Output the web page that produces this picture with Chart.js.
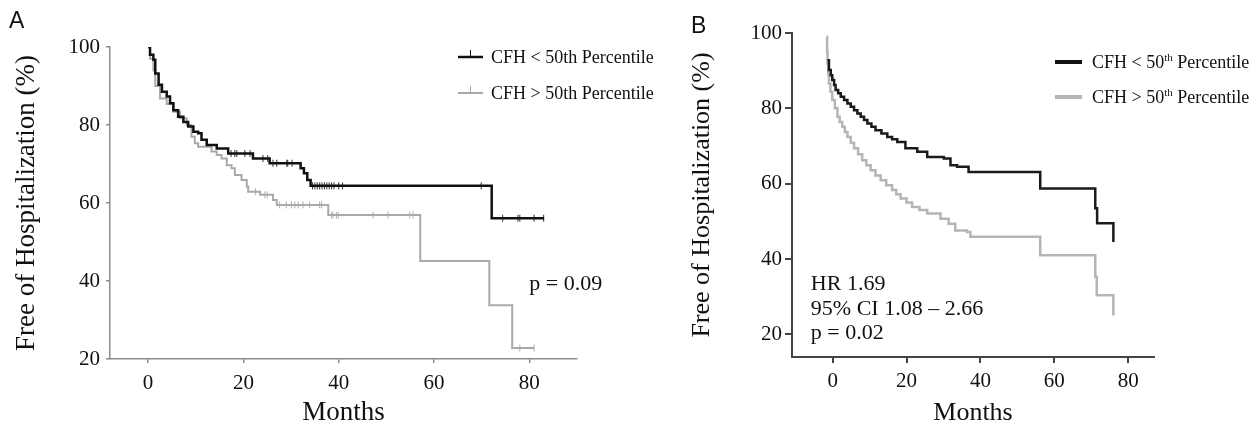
<!DOCTYPE html>
<html>
<head>
<meta charset="utf-8">
<script src="https://cdn.jsdelivr.net/npm/chart.js@4.4.1/dist/chart.umd.min.js"></script>
<style>
    body { margin: 0; background: #fff; width: 1260px; height: 429px; overflow: hidden; position: relative; }
    canvas { position: absolute; top: 0; }
    #chartA { left: 0; }
    #chartB { left: 640px; }
    .panel-label { position: absolute; font-family: "Liberation Sans", Arial, sans-serif; font-size: 23px; color: #111; }
</style>
</head>
<body>
<canvas id="chartA" width="680" height="429"></canvas>
<canvas id="chartB" width="620" height="429"></canvas>
<div class="panel-label" style="left:9px; top:7px;">A</div>
<div class="panel-label" style="left:691px; top:12px;">B</div>

<script>
// Панель A: время (мес.) и доля без госпитализации (%) — ступени Каплана–Мейера
const aLowTimes  = [0, 0.4, 1.1, 1.5, 2.2, 2.9, 3.9, 4.6, 5.3, 6.3, 7.4, 8.4, 9.5, 10.5, 11.2, 12.3, 14.4, 16.8, 22, 25.5, 32, 32.7, 33.4, 34.1, 72.1, 83.1];
const aLowValues = [100, 98, 96.7, 93.2, 90.3, 88.5, 87.3, 85.6, 83.8, 82.1, 80.8, 79.6, 78.3, 77.9, 76.2, 74.9, 74, 72.7, 71.4, 70.2, 68.9, 67.6, 65.9, 64.4, 56.1, 56.1];
const aLowCensored = [17.4, 18.2, 18.6, 20.3, 21.4, 24.1, 25.1, 26.2, 27, 29.1, 29.3, 30.2, 34.5, 35, 35.5, 36, 36.5, 37, 37.5, 38, 38.5, 39, 40, 40.8, 69.9, 74.4, 77.6, 78, 81, 83];

const aHighTimes  = [0, 0.4, 1.1, 1.5, 2.5, 3.9, 5.3, 6.7, 8.1, 9.1, 9.8, 10.5, 13.3, 14.4, 15.4, 16.5, 17.5, 18.2, 19.6, 20.7, 21, 23.5, 26.2, 27, 37.8, 57.1, 71.6, 76.4, 81];
const aHighValues = [100, 97, 94, 90, 86.8, 85.4, 83.4, 81.7, 80, 77, 75.3, 74.4, 73.2, 72.3, 71.4, 69.7, 68.9, 67.2, 65.9, 64.2, 62.9, 62.1, 60.8, 59.5, 56.9, 45.1, 33.8, 22.8, 22.8];
const aHighCensored = [22.5, 24.5, 25, 27.6, 29, 30.1, 30.8, 31.5, 32.5, 33.9, 36, 36.4, 38.5, 38.8, 39.5, 39.9, 47.2, 50.3, 54.9, 55.6, 78, 81];

const aXTicks = [0, 20, 40, 60, 80];
const aYTicks = [20, 40, 60, 80, 100];

// Панель B
const bLowTimes  = [-1.4, -1, -0.5, -0.1, 0.4, 0.8, 1.5, 2.2, 3.1, 4, 4.9, 5.8, 6.7, 7.6, 8.5, 9.4, 10.5, 11.6, 13.2, 14.8, 16.1, 17.5, 19.7, 22.9, 25.6, 30.1, 31.9, 33.7, 36.8, 56.2, 71.1, 71.6, 76];
const bLowValues = [92.8, 90.2, 88.8, 87.5, 86.2, 84.9, 84, 83.1, 82.2, 81.3, 80.4, 79.5, 78.6, 77.8, 76.9, 76, 75.1, 74.2, 73.3, 72.4, 71.8, 71.1, 69.4, 68.5, 67.1, 66.7, 64.9, 64.5, 63.1, 58.7, 53.5, 49.5, 44.5];

const bHighTimes  = [-1.6, -1.5, -1.4, -1.2, -1, -0.6, -0.1, 0.6, 1.3, 1.9, 2.6, 3.3, 4, 4.9, 5.8, 6.9, 8, 9.1, 10.3, 11.6, 13, 14.5, 16.1, 17.2, 18.4, 20, 21.5, 23.5, 25.6, 29.2, 31.4, 33.2, 36.4, 37.3, 56.2, 71.1, 71.5, 76];
const bHighValues = [99, 95, 91.9, 89, 86.6, 84.4, 82.2, 80, 77.8, 76.4, 75.1, 73.7, 72.4, 70.9, 69.4, 67.8, 66.2, 64.9, 63.6, 62.2, 60.9, 59.6, 58.3, 57.2, 56.1, 55, 53.8, 53, 52.1, 50.7, 49.4, 47.6, 47.2, 45.9, 41, 35.3, 30.4, 25];

const bXTicks = [0, 20, 40, 60, 80];
const bYTicks = [20, 40, 60, 80, 100];

const legendLabels = ['CFH < 50th Percentile', 'CFH > 50th Percentile'];

const SERIF = '"Liberation Serif", "Times New Roman", serif';

// Пары (x, y) для Chart.js
function toXY(times, values) {
    return times.map((t, i) => ({ x: t, y: values[i] }));
}

// Значение ступенчатой кривой в момент t (для меток цензурирования)
function stepAt(times, values, t) {
    let v = values[0];
    for (let i = 0; i < times.length; i++) {
        if (times[i] <= t) v = values[i];
    }
    return v;
}

function censorXY(marks, times, values) {
    return marks.map(t => ({ x: t, y: stepAt(times, values, t) }));
}

// Текст на графике в координатах данных
const notesPlugin = {
    id: 'notes',
    afterDatasetsDraw(chart, args, opts) {
        const ctx = chart.ctx;
        const xs = chart.scales.x, ys = chart.scales.y;
        ctx.save();
        ctx.fillStyle = '#111';
        ctx.font = opts.font;
        ctx.textAlign = 'left';
        ctx.textBaseline = 'alphabetic';
        (opts.items || []).forEach(n => {
            ctx.fillText(n.text, xs.getPixelForValue(n.x), ys.getPixelForValue(n.y));
        });
        ctx.restore();
    }
};

// Легенда: образец линии + подпись (с надстрочным "th" при необходимости)
const keyPlugin = {
    id: 'key',
    afterDraw(chart, args, opts) {
        const ctx = chart.ctx;
        ctx.save();
        opts.entries.forEach((e, i) => {
            const y = opts.y0 + i * opts.gap;
            ctx.strokeStyle = e.color;
            ctx.lineWidth = e.width;
            ctx.beginPath();
            ctx.moveTo(opts.x0, y);
            ctx.lineTo(opts.x0 + opts.len, y);
            ctx.stroke();
            if (opts.tick) {
                ctx.lineWidth = 1;
                ctx.beginPath();
                ctx.moveTo(opts.x0 + opts.len / 2, y);
                ctx.lineTo(opts.x0 + opts.len / 2, y - 7);
                ctx.stroke();
            }
            ctx.fillStyle = '#111';
            ctx.textBaseline = 'middle';
            ctx.textAlign = 'left';
            let x = opts.x0 + opts.len + opts.textGap;
            if (opts.superscript) {
                const parts = e.text.split('th');
                ctx.font = opts.size + 'px ' + SERIF;
                ctx.fillText(parts[0], x, y + 1);
                x += ctx.measureText(parts[0]).width;
                ctx.font = Math.round(opts.size * 0.6) + 'px ' + SERIF;
                ctx.fillText('th', x, y - 4);
                x += ctx.measureText('th').width;
                ctx.font = opts.size + 'px ' + SERIF;
                ctx.fillText(parts[1], x, y + 1);
            } else {
                ctx.font = opts.size + 'px ' + SERIF;
                ctx.fillText(e.text, x, y + 1);
            }
        });
        ctx.restore();
    }
};

function setTicks(list) {
    return scale => { scale.ticks = list.map(v => ({ value: v })); };
}

// Панель A
new Chart(document.getElementById('chartA'), {
    type: 'line',
    data: {
        datasets: [
            { data: toXY(aLowTimes, aLowValues), stepped: true, borderColor: '#111', borderWidth: 2.5, pointRadius: 0 },
            { data: toXY(aHighTimes, aHighValues), stepped: true, borderColor: '#a9a9a9', borderWidth: 2, pointRadius: 0 },
            { data: censorXY(aLowCensored, aLowTimes, aLowValues), showLine: false, pointStyle: 'line', rotation: 90,
              pointRadius: 3.5, borderColor: '#333', borderWidth: 1 },
            { data: censorXY(aHighCensored, aHighTimes, aHighValues), showLine: false, pointStyle: 'line', rotation: 90,
              pointRadius: 3.5, borderColor: '#b0b0b0', borderWidth: 1 }
        ]
    },
    options: {
        responsive: false,
        animation: false,
        layout: { padding: { top: 47, right: 103, bottom: 0, left: 0 } },
        plugins: {
            legend: { display: false },
            tooltip: { enabled: false },
            notes: { font: '22px ' + SERIF, items: [{ text: 'p = 0.09', x: 80, y: 37.7 }] },
            key: {
                x0: 458, y0: 57, gap: 36, len: 25, textGap: 8, size: 18, tick: true, superscript: false,
                entries: [
                    { text: legendLabels[0], color: '#111', width: 2.5 },
                    { text: legendLabels[1], color: '#a9a9a9', width: 2 }
                ]
            }
        },
        scales: {
            x: {
                type: 'linear', min: -8, max: 90,
                afterBuildTicks: setTicks(aXTicks),
                afterFit: s => { s.height = 70; },
                grid: { drawOnChartArea: false, color: '#8c8c8c', lineWidth: 1.5, tickLength: 4 },
                border: { color: '#8c8c8c', width: 1.5 },
                ticks: { font: { family: SERIF, size: 21 }, color: '#111', padding: 8 },
                title: { display: true, text: 'Months', font: { family: SERIF, size: 27 }, color: '#111', padding: { top: 0, bottom: 0 } }
            },
            y: {
                min: 20, max: 100,
                afterBuildTicks: setTicks(aYTicks),
                afterFit: s => { s.width = 110; },
                grid: { drawOnChartArea: false, color: '#8c8c8c', lineWidth: 1.5, tickLength: 4 },
                border: { color: '#8c8c8c', width: 1.5 },
                ticks: { font: { family: SERIF, size: 21 }, color: '#111', padding: 6 },
                title: { display: true, text: 'Free of Hospitalization (%)', font: { family: SERIF, size: 27 }, color: '#111', padding: { top: 11, bottom: 0 } }
            }
        }
    },
    plugins: [notesPlugin, keyPlugin]
});

// Панель B
new Chart(document.getElementById('chartB'), {
    type: 'line',
    data: {
        datasets: [
            { data: toXY(bLowTimes, bLowValues), stepped: true, borderColor: '#1a1a1a', borderWidth: 2.5, pointRadius: 0 },
            { data: toXY(bHighTimes, bHighValues), stepped: true, borderColor: '#b5b5b5', borderWidth: 2.5, pointRadius: 0 }
        ]
    },
    options: {
        responsive: false,
        animation: false,
        layout: { padding: { top: 33, right: 106, bottom: 0, left: 0 } },
        plugins: {
            legend: { display: false },
            tooltip: { enabled: false },
            notes: {
                font: '22px ' + SERIF,
                items: [
                    { text: 'HR 1.69', x: -5.9, y: 31.7 },
                    { text: '95% CI 1.08 \u2013 2.66', x: -5.9, y: 25.1 },
                    { text: 'p = 0.02', x: -5.9, y: 18.7 }
                ]
            },
            key: {
                x0: 415, y0: 62, gap: 35, len: 27, textGap: 10, size: 18, tick: false, superscript: true,
                entries: [
                    { text: legendLabels[0], color: '#111', width: 4 },
                    { text: legendLabels[1], color: '#b5b5b5', width: 4 }
                ]
            }
        },
        scales: {
            x: {
                type: 'linear', min: -11, max: 87,
                afterBuildTicks: setTicks(bXTicks),
                afterFit: s => { s.height = 72; },
                grid: { drawOnChartArea: false, color: '#444', lineWidth: 2, tickLength: 6 },
                border: { color: '#444', width: 2 },
                ticks: { font: { family: SERIF, size: 21 }, color: '#111', padding: 6 },
                title: { display: true, text: 'Months', font: { family: SERIF, size: 26 }, color: '#111', padding: { top: 0, bottom: 0 } }
            },
            y: {
                min: 14, max: 100,
                afterBuildTicks: setTicks(bYTicks),
                afterFit: s => { s.width = 152; },
                grid: { drawOnChartArea: false, color: '#444', lineWidth: 2, tickLength: 7 },
                border: { color: '#444', width: 2 },
                ticks: { font: { family: SERIF, size: 21 }, color: '#111', padding: 3 },
                title: { display: true, text: 'Free of Hospitalization (%)', font: { family: SERIF, size: 26 }, color: '#111', padding: { top: 47, bottom: 0 } }
            }
        }
    },
    plugins: [notesPlugin, keyPlugin]
});
</script>
</body>
</html>
